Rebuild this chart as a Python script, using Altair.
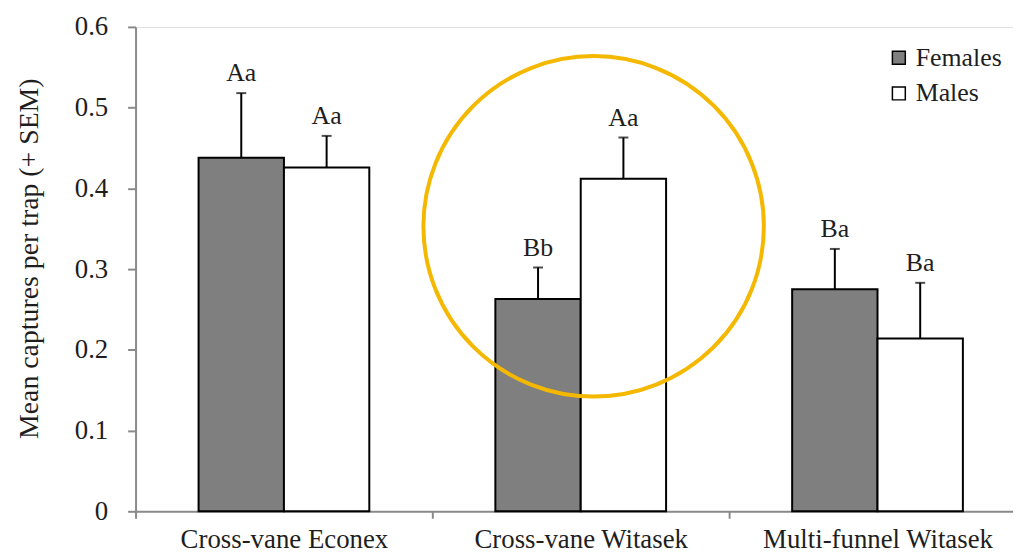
import altair as alt
import pandas as pd

# ---- data ----
traps = ["Cross-vane Econex", "Cross-vane Witasek", "Multi-funnel Witasek"]
sexes = ["Females", "Males"]
female_means = [0.438, 0.263, 0.275]
female_upper = [0.518, 0.302, 0.325]
male_means = [0.426, 0.412, 0.214]
male_upper = [0.465, 0.463, 0.283]
female_letters = ["Aa", "Bb", "Ba"]
male_letters = ["Aa", "Aa", "Ba"]
y_ticks = [0, 0.1, 0.2, 0.3, 0.4, 0.5, 0.6]
highlight_trap = ["Cross-vane Witasek"]
highlight_center = [0.353]

rows = []
for i, t in enumerate(traps):
    rows.append({"trap": t, "sex": "Females", "mean": female_means[i],
                 "upper": female_upper[i], "letter": female_letters[i]})
    rows.append({"trap": t, "sex": "Males", "mean": male_means[i],
                 "upper": male_upper[i], "letter": male_letters[i]})
df = pd.DataFrame(rows)
hl = pd.DataFrame({"trap": highlight_trap, "yc": highlight_center})

FONT = "Times New Roman, Liberation Serif, serif"
AXC = "#8a8a8a"
TXT = "#1e1e1e"

x_enc = alt.X(
    "trap:N", sort=traps,
    scale=alt.Scale(domain=traps, range=[0, 897], paddingInner=0, paddingOuter=0),
    axis=alt.Axis(title=None, tickBand="extent", labelAngle=0, labelFont=FONT,
                  labelFontSize=27, labelColor=TXT, labelPadding=8, labelLimit=0,
                  domainColor=AXC, domainWidth=2, tickColor=AXC, tickWidth=2,
                  tickSize=7, grid=False),
)
xo_enc = alt.XOffset("sex:N", sort=sexes,
                     scale=alt.Scale(domain=sexes, paddingInner=0, paddingOuter=0.7384))

y_scale = alt.Scale(domain=[0, 0.6], nice=False)
y_axis = alt.Axis(values=y_ticks,
                  labelExpr="datum.value == 0 ? '0' : format(datum.value, '.1f')",
                  title="Mean captures per trap (+ SEM)", titleFont=FONT,
                  titleFontSize=28, titleFontWeight="normal", titleColor=TXT,
                  titleX=-107, titleY=233, titleAngle=270, titleAlign="center",
                  titleBaseline="middle",
                  labelFont=FONT, labelFontSize=27, labelColor=TXT,
                  labelPadding=20, domainColor=AXC, domainWidth=2, tickColor=AXC,
                  tickWidth=2, tickSize=8, grid=False)

bars = alt.Chart(df).mark_bar(stroke="black", strokeWidth=2).encode(
    x=x_enc, xOffset=xo_enc,
    y=alt.Y("mean:Q", scale=y_scale, axis=y_axis),
    color=alt.Color("sex:N", sort=sexes,
                    scale=alt.Scale(domain=sexes, range=["#7f7f7f", "#ffffff"]),
                    legend=alt.Legend(title=None, orient="none", legendX=756, legendY=18,
                                      symbolType="square", symbolSize=169,
                                      symbolStrokeColor="black", symbolStrokeWidth=1.5,
                                      labelFont=FONT, labelFontSize=26,
                                      labelColor=TXT, labelOffset=4,
                                      rowPadding=10)),
)

err = alt.Chart(df).mark_rule(color="black", strokeWidth=2).encode(
    x=alt.X("trap:N", sort=traps), xOffset=alt.XOffset("sex:N", sort=sexes),
    y="mean:Q", y2="upper:Q")

caps = alt.Chart(df).mark_tick(color="black", thickness=2, size=10).encode(
    x=alt.X("trap:N", sort=traps), xOffset=alt.XOffset("sex:N", sort=sexes),
    y="upper:Q")

letters = alt.Chart(df).mark_text(font=FONT, fontSize=26, color=TXT,
                                  baseline="alphabetic", dy=-12).encode(
    x=alt.X("trap:N", sort=traps), xOffset=alt.XOffset("sex:N", sort=sexes),
    y="upper:Q", text="letter:N")

circle = alt.Chart(hl).mark_point(shape="circle", size=343 * 343, filled=False,
                                  stroke="#F5B800", strokeWidth=4, opacity=1,
                                  xOffset=13).encode(
    x=alt.X("trap:N", sort=traps), y="yc:Q")

chart = alt.layer(bars, err, caps, letters, circle).properties(
    width=884, height=488,
    autosize=alt.AutoSizeParams(type="none"),
    padding={"left": 128.5, "top": 17, "right": 0, "bottom": 46},
).configure_view(stroke=None).configure(
    background="white", font=FONT,
    style={"guide-label": {"font": FONT}, "guide-title": {"font": FONT}},
).configure_axis(
    labelFont=FONT, titleFont=FONT, labelLimit=0
).configure_legend(labelFont=FONT)

chart.save("out.html", embed_options={"renderer": "svg", "actions": False})
